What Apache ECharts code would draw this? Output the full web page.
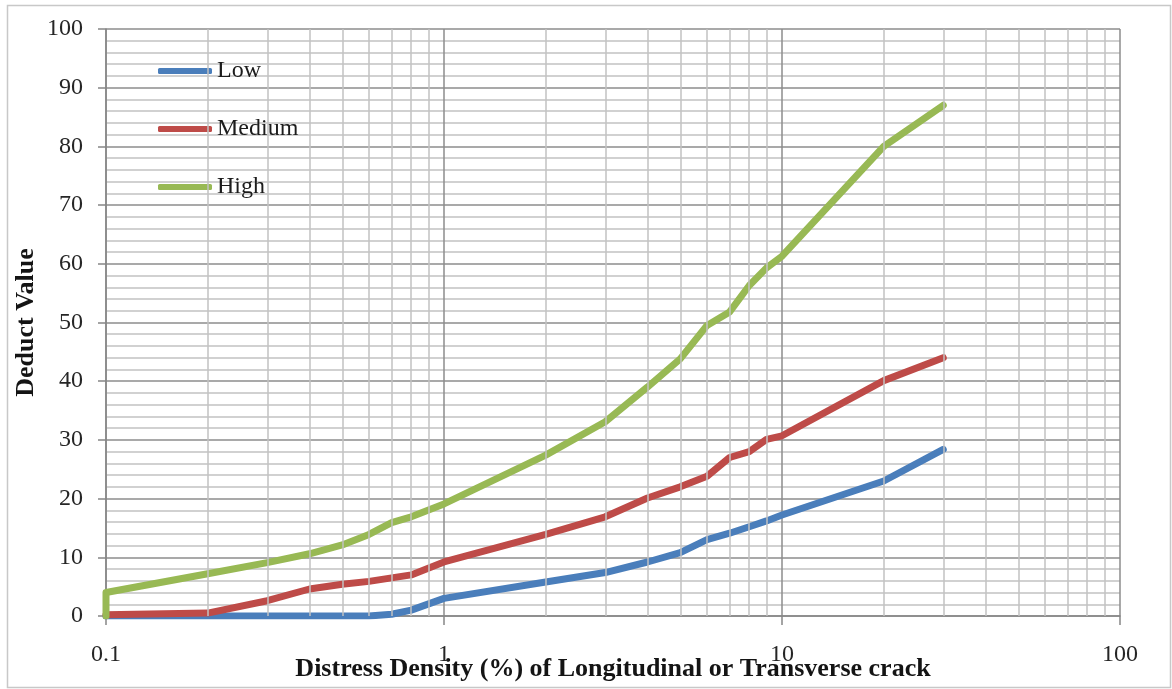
<!DOCTYPE html>
<html>
<head>
<meta charset="utf-8">
<script src="https://cdn.jsdelivr.net/npm/echarts@6/dist/echarts.min.js"></script>
<style>
  html, body { margin: 0; padding: 0; background: #fff; }
  #chart { width: 1172px; height: 689px; }
</style>
</head>
<body>
<div id="chart"></div>
<script>
// Distress density (%) on a log scale vs. deduct value for three severity levels
const lowDensity  = [0.1, 0.2, 0.3, 0.4, 0.5, 0.6, 0.7, 0.8, 1, 2, 3, 4, 5, 6, 7, 8, 9, 10, 20, 30];
const lowDeduct   = [0, 0, 0, 0, 0, 0, 0.3, 1, 3, 5.8, 7.4, 9.2, 10.8, 13, 14.1, 15.2, 16.2, 17.2, 23, 28.4];

const medDensity  = [0.1, 0.2, 0.3, 0.4, 0.5, 0.6, 0.7, 0.8, 1, 2, 3, 4, 5, 6, 7, 8, 9, 10, 20, 30];
const medDeduct   = [0.2, 0.5, 2.6, 4.6, 5.4, 5.9, 6.5, 7, 9.2, 13.9, 16.9, 20.1, 22, 23.8, 27, 28, 30.1, 30.7, 40.1, 44];

const highDensity = [0.1, 0.1, 0.2, 0.3, 0.4, 0.5, 0.6, 0.7, 0.8, 1, 2, 3, 4, 5, 6, 7, 8, 9, 10, 20, 30];
const highDeduct  = [0, 4, 7.2, 9.1, 10.6, 12.1, 13.9, 15.9, 16.9, 19.1, 27.4, 33.1, 39, 43.8, 49.5, 51.8, 56.3, 59.3, 61.3, 80, 87];

const seriesNames = ['Low', 'Medium', 'High'];
const seriesColors = ['#4A7EBB', '#BE4B48', '#98B954'];

// Intermediate (2..9 per decade) vertical gridlines on the log axis
const xMinorGrid = [0.2, 0.3, 0.4, 0.5, 0.6, 0.7, 0.8, 0.9,
                    2, 3, 4, 5, 6, 7, 8, 9,
                    20, 30, 40, 50, 60, 70, 80, 90];

const xAxisTitle = 'Distress Density (%) of Longitudinal or Transverse crack';
const yAxisTitle = 'Deduct Value';

const pairs = (xs, ys) => xs.map((x, i) => [x, ys[i]]);
const FONT = '"Liberation Serif", "Times New Roman", serif';

const chart = echarts.init(document.getElementById('chart'), null, { renderer: 'canvas' });

const lineSeries = [pairs(lowDensity, lowDeduct), pairs(medDensity, medDeduct), pairs(highDensity, highDeduct)]
  .map((data, i) => ({
    name: seriesNames[i],
    type: 'line',
    data: data,
    showSymbol: false,
    symbol: 'none',
    z: 3,
    lineStyle: { color: seriesColors[i], width: 7, cap: 'round', join: 'round' },
    itemStyle: { color: seriesColors[i] },
    emphasis: { disabled: true },
    animation: false
  }));

chart.setOption({
  animation: false,
  backgroundColor: '#ffffff',
  graphic: [{
    type: 'rect',
    shape: { x: 7.5, y: 5.5, width: 1163, height: 682 },
    style: { fill: 'none', stroke: '#c8c8c8', lineWidth: 1.5 },
    silent: true,
    z: -10
  }],
  grid: { left: 106, right: 52, top: 29, bottom: 73, containLabel: false, outerBoundsMode: 'none' },
  legend: {
    data: seriesNames,
    orient: 'vertical',
    left: 158,
    top: 57,
    padding: 0,
    itemWidth: 54,
    itemHeight: 6,
    itemGap: 30,
    itemTextGap: 3,
    icon: 'roundRect',
    textStyle: { fontFamily: FONT, fontSize: 24, color: '#1c1c1c', lineHeight: 28 },
    selectedMode: false
  },
  xAxis: {
    type: 'log',
    logBase: 10,
    min: 0.1,
    max: 100,
    name: xAxisTitle,
    nameLocation: 'middle',
    nameGap: 40,
    nameMoveOverlap: false,
    nameTextStyle: { fontFamily: FONT, fontSize: 26, fontWeight: 'bold', color: '#141414' },
    axisLine: { show: true, lineStyle: { color: '#868686', width: 1.5 } },
    axisTick: { show: true, length: 9, lineStyle: { color: '#868686', width: 1.5 } },
    axisLabel: {
      margin: 27,
      fontFamily: FONT, fontSize: 24, color: '#262626',
      formatter: v => String(+Number(v).toPrecision(3))
    },
    splitLine: { show: true, lineStyle: { color: '#8c8c8c', width: 1.5 } }
  },
  yAxis: {
    type: 'value',
    min: 0,
    max: 100,
    interval: 10,
    name: yAxisTitle,
    nameLocation: 'middle',
    nameGap: 67,
    nameMoveOverlap: false,
    nameTextStyle: { fontFamily: FONT, fontSize: 26, fontWeight: 'bold', color: '#141414' },
    axisLine: { show: true, lineStyle: { color: '#868686', width: 1.5 } },
    axisTick: { show: true, length: 8, lineStyle: { color: '#868686', width: 1.5 } },
    axisLabel: { margin: 23, fontFamily: FONT, fontSize: 24, color: '#262626' },
    splitLine: { show: true, lineStyle: { color: '#8c8c8c', width: 1.5 } },
    minorTick: { show: false, splitNumber: 5 },
    minorSplitLine: { show: true, lineStyle: { color: '#c2c2c2', width: 1.5 } }
  },
  series: [
    {
      name: 'grid',
      type: 'line',
      data: [],
      z: 1,
      silent: true,
      markLine: {
        silent: true,
        symbol: 'none',
        label: { show: false },
        animation: false,
        lineStyle: { color: '#c2c2c2', width: 1.5, type: 'solid' },
        emphasis: { disabled: true },
        data: xMinorGrid.map(v => ({ xAxis: v }))
      }
    },
    ...lineSeries
  ]
});
</script>
</body>
</html>
